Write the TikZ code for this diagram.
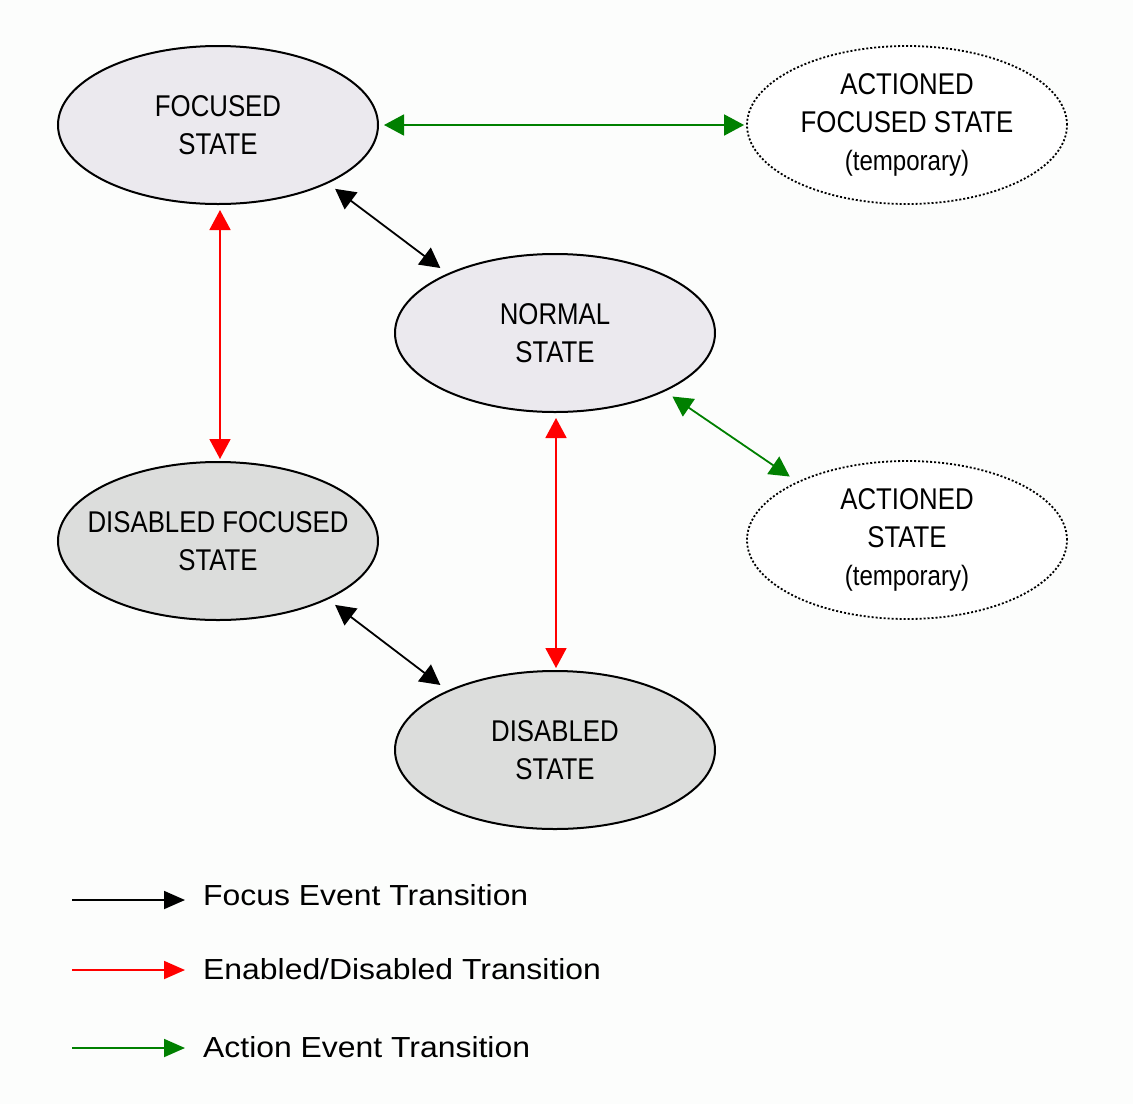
\documentclass[tikz,border=0pt]{standalone}
\usepackage{fontspec}
\setmainfont{Liberation Sans}
\newfontfamily\ellfont[FakeStretch=0.86]{Liberation Sans}
\newfontfamily\legfont[FakeStretch=1.1]{Liberation Sans}
\usetikzlibrary{shapes.geometric,arrows.meta}
\definecolor{bgc}{HTML}{FCFDFC}
\definecolor{focfill}{HTML}{EBE9EE}
\definecolor{disfill}{HTML}{DCDDDC}
\definecolor{actgreen}{HTML}{008000}
\begin{document}
\begin{tikzpicture}[x=1pt,y=-1pt,
  st/.style={ellipse, draw=black, line width=2pt, minimum width=320pt, minimum height=158pt, inner xsep=-60pt, inner ysep=0pt, align=center, font=\ellfont\fontsize{30}{38}\selectfont},
  focst/.style={st, fill=focfill},
  disst/.style={st, fill=disfill},
  actst/.style={st, fill=white, dotted, line width=1.8pt},
  tr/.style={line width=1.8pt, {Triangle[length=20pt,width=21pt]}-{Triangle[length=20pt,width=21pt]}},
  legarr/.style={line width=1.8pt, -{Triangle[length=21pt,width=18pt]}},
  legtxt/.style={anchor=west, inner sep=0pt, font=\legfont\fontsize{29}{34}\selectfont}
]
\fill[bgc] (0,0) rectangle (1133,1104);
\useasboundingbox (0,0) rectangle (1133,1104);

\node[focst] (foc) at (218,125) {FOCUSED\\STATE};
\node[actst] (afoc) at (907,125) {ACTIONED\\FOCUSED STATE\\{\fontsize{28}{34}\selectfont (temporary)}};
\node[focst] (norm) at (555,333) {NORMAL\\STATE};
\node[actst] (act) at (907,540) {ACTIONED\\STATE\\{\fontsize{28}{34}\selectfont (temporary)}};
\node[disst] (dfoc) at (218,541) {DISABLED FOCUSED\\STATE};
\node[disst] (dis) at (555,750) {DISABLED\\STATE};

\draw[tr, actgreen, shorten <=5pt, shorten >=2pt] (foc.east) -- (afoc.west);
\draw[tr, black, shorten <=9pt, shorten >=9pt] (foc.-28) -- (norm.151);
\draw[tr, actgreen, shorten <=9pt, shorten >=9pt] (norm.-28) -- (act.152);
\draw[tr, red, shorten <=5pt, shorten >=2pt] ([xshift=2pt]foc.south) -- ([xshift=2pt]dfoc.north);
\draw[tr, red, shorten <=5pt, shorten >=2pt] ([xshift=1pt]norm.south) -- ([xshift=1pt]dis.north);
\draw[tr, black, shorten <=9pt, shorten >=9pt] (dfoc.-28) -- (dis.151);

\coordinate (l1a) at (72,900);  \coordinate (l1b) at (185,900);
\coordinate (l2a) at (72,970);  \coordinate (l2b) at (185,970);
\coordinate (l3a) at (72,1048); \coordinate (l3b) at (185,1048);
\draw[legarr, black] (l1a) -- (l1b);
\draw[legarr, red] (l2a) -- (l2b);
\draw[legarr, actgreen] (l3a) -- (l3b);
\node[legtxt] (t1) at (203,895) {Focus Event Transition};
\node[legtxt] (t2) at (203,969) {Enabled/Disabled Transition};
\node[legtxt] (t3) at (203,1047) {Action Event Transition};
\end{tikzpicture}
\end{document}
